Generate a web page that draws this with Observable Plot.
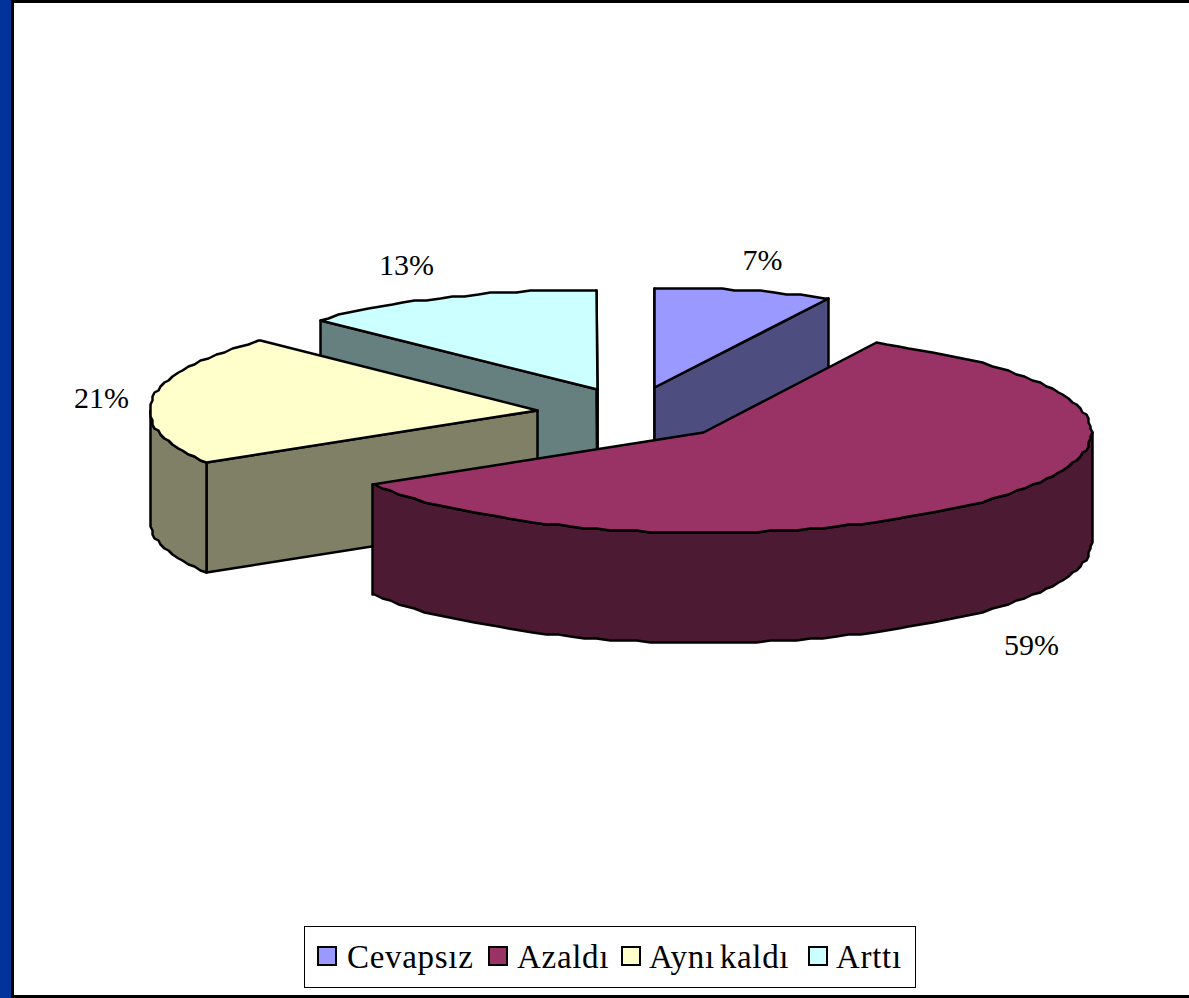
<!DOCTYPE html>
<html lang="tr">
<head>
<meta charset="utf-8">
<script src="https://cdn.jsdelivr.net/npm/d3@7"></script>
<script src="https://cdn.jsdelivr.net/npm/@observablehq/plot@0.6"></script>
<style>
html,body{margin:0;padding:0;background:#fff;overflow:hidden}
#page{position:relative;width:1189px;height:998px;background:#fff;font-family:"Liberation Serif",serif;color:#000}
#band{position:absolute;left:0;top:0;width:11px;height:998px;background:#003399}
#bl{position:absolute;left:11px;top:0;width:3px;height:998px;background:#000}
#bt{position:absolute;left:11px;top:0;width:1178px;height:3px;background:#000}
#bb{position:absolute;left:11px;top:995px;width:1178px;height:3px;background:#000}
#chart{position:absolute;left:0;top:0}
#chart svg{display:block;background:transparent}
#legend{position:absolute;left:304px;top:926px;width:610px;height:60px;border:1px solid #000;background:#fff}
.key{position:absolute;top:19px;width:16px;height:16px;border:2.5px solid #000;box-sizing:content-box}
.lab{position:absolute;top:11px;font-size:33px;line-height:38px;letter-spacing:.7px;word-spacing:-4px;white-space:nowrap}
</style>
</head>
<body>
<div id="page">
  <div id="chart"></div>
  <div id="band"></div><div id="bl"></div><div id="bt"></div><div id="bb"></div>
  <div id="legend"></div>
</div>
<script>
// Data
const categories = ["Cevapsız", "Azaldı", "Aynı kaldı", "Arttı"];
const shares = [7.4, 58.9, 21.0, 12.7];           // slice sizes, percent
const topColors = ["#9999FF", "#993366", "#FFFFCC", "#CCFFFF"];
const sideColors = ["#4D4D80", "#4D1A33", "#808066", "#668080"];

// Layout: where each exploded slice's apex sits, pie radii and thickness
const apexX = [654, 703, 537, 597];
const apexY = [387, 432, 410, 389];
const rx = 388, ry = 100, depth = 110;
const labelX = [762, 1031, 101, 406];
const labelY = [260, 645, 398, 265];
const legendKeyX = [12, 183, 316, 503];
const legendLabX = [42, 212, 344, 531];
const drawOrder = [3, 0, 2, 1];   // back to front
const rimGrid = 2;                // the reference's rim is a coarse, stepped outline
const rimStep = 2;                // degrees between rim samples, on one shared grid

const rad = d => d * Math.PI / 180;
const snap = v => Math.round(v / rimGrid) * rimGrid;
const rim = (i, a, dy = 0) => ({
  x: snap(apexX[i] + rx * Math.sin(rad(a))),
  y: snap(apexY[i] - ry * Math.cos(rad(a))) + dy
});
// samples on a shared angle grid, so a top face and its wall trace the same outline
const arc = (i, a0, a1, dy = 0) => {
  const inner = d3.range(Math.ceil(a0 / rimStep + 1e-6) * rimStep, a1, rimStep);
  return [a0, ...inner, a1].map(a => rim(i, a, dy));
};

let acc = 0;
const angles = shares.map(s => { const a0 = acc * 3.6; acc += s; return [a0, acc * 3.6]; });

const marks = [];
const poly = (pts, fill) => marks.push(Plot.line(pts, {
  x: "x", y: "y", fill, stroke: "#000", strokeWidth: 2.5,
  curve: "linear-closed", strokeLinejoin: "round"
}));

drawOrder.forEach(i => {
  const [a0, a1] = angles[i];
  const apex = {x: apexX[i], y: apexY[i]};
  const apexLow = {x: apexX[i], y: apexY[i] + depth};
  const face = a => poly([apex, rim(i, a), rim(i, a, depth), apexLow], sideColors[i]);
  // radial faces: only those turned towards the viewer
  if (Math.sin(rad(a0)) <= 1e-9) face(a0);
  if (Math.sin(rad(a1)) >= -1e-9) face(a1);
  // outer wall (only the front half of the rim is visible)
  const w0 = Math.max(a0, 90), w1 = Math.min(a1, 270);
  if (w1 > w0) poly([...arc(i, w0, w1), ...arc(i, w0, w1, depth).reverse()], sideColors[i]);
  // top face
  poly([apex, ...arc(i, a0, a1)], topColors[i]);
});

const labels = categories.map((c, i) => ({
  text: Math.round(shares[i]) + "%", x: labelX[i], y: labelY[i]
}));
marks.push(Plot.text(labels, {
  x: "x", y: "y", text: "text", fontSize: 30, fill: "#000",
  fontFamily: "Liberation Serif", textAnchor: "middle"
}));

const chart = Plot.plot({
  width: 1189, height: 998,
  margin: 0,
  x: {domain: [0, 1189], range: [0, 1189], axis: null},
  y: {domain: [0, 998], range: [0, 998], axis: null},
  marks
});
document.getElementById("chart").appendChild(chart);

const legend = document.getElementById("legend");
categories.forEach((c, i) => {
  const k = document.createElement("div");
  k.className = "key"; k.style.left = legendKeyX[i] + "px"; k.style.background = topColors[i];
  const t = document.createElement("div");
  t.className = "lab"; t.style.left = legendLabX[i] + "px"; t.textContent = c;
  legend.append(k, t);
});
</script>
</body>
</html>
